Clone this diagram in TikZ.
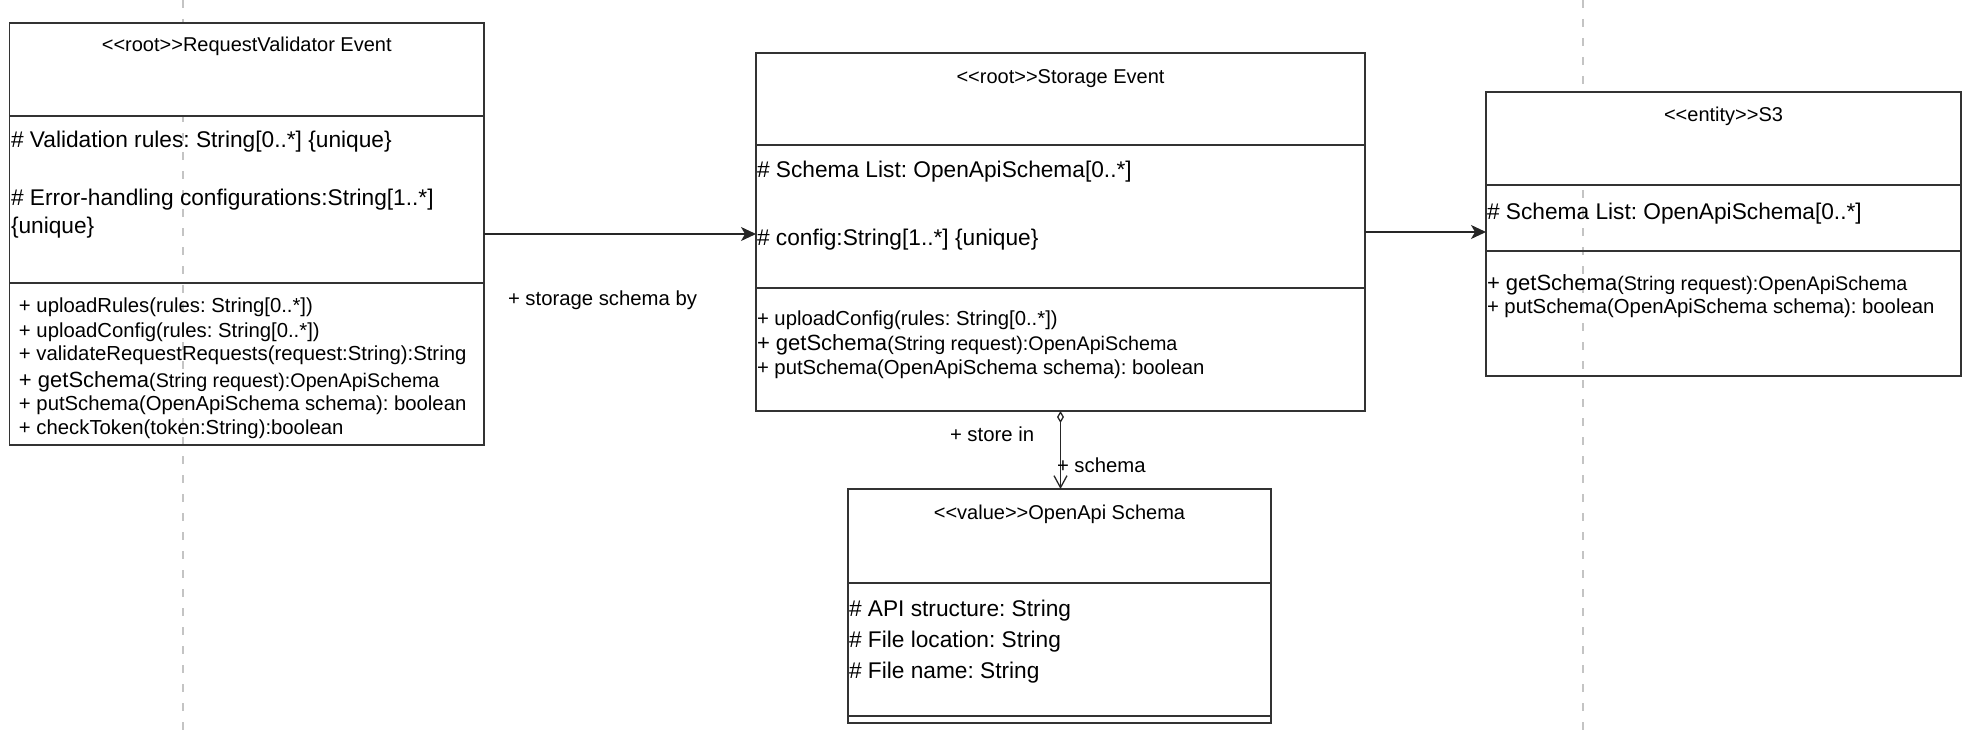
\documentclass[tikz,border=0pt]{standalone}
\usepackage{fontspec}
\setmainfont{Liberation Sans}
\usetikzlibrary{arrows.meta}
\definecolor{boxc}{HTML}{333333}
\definecolor{lifec}{HTML}{C4C4C4}
\frenchspacing
\newcommand\ftitle{\fontsize{20}{24}\selectfont}
\newcommand\fattr{\fontsize{22.7}{27}\selectfont}
\newcommand\fmeth{\fontsize{20.3}{24}\selectfont}
\newcommand\fbig{\fontsize{22}{26}\selectfont}
\newcommand\fsmall{\fontsize{19.7}{23}\selectfont}
\newcommand\getsch{{\fbig + getSchema}{\fsmall (String request):OpenApiSchema}}
\begin{document}
\begin{tikzpicture}[x=1pt,y=-1pt,
  box/.style={draw=boxc, line width=1.5pt, inner sep=0pt, outer sep=0pt, anchor=north west},
  head/.style={box, fill=white},
  divider/.style={draw=boxc, line width=1.5pt},
  ttl/.style={anchor=base, inner sep=0pt, outer sep=0pt, font=\ftitle},
  attr/.style={anchor=base west, inner sep=0pt, outer sep=0pt, font=\fattr},
  meth/.style={anchor=base west, inner sep=0pt, outer sep=0pt, font=\fmeth},
  lbl/.style={anchor=base west, inner sep=0pt, outer sep=0pt, font=\fmeth},
  lifeline/.style={draw=lifec, line width=2pt, dash pattern=on 8pt off 11pt},
  conn/.style={draw=black!85, line width=1.3pt},
  filledtip/.style={-{Stealth[length=15pt,width=14pt,inset=4pt]}},
  aggtip/.style={{Diamond[open,length=12pt,width=7pt]}-{Straight Barb[length=12pt,width=13pt]}}]
\useasboundingbox (0,0) rectangle (1965,733);

% lifelines
\coordinate (l1top) at (183,0);  \coordinate (l1bot) at (183,733);
\coordinate (l2top) at (1583,0); \coordinate (l2bot) at (1583,733);
\draw[lifeline] (l1top) -- (l1bot);
\draw[lifeline] (l2top) -- (l2bot);

% ---------------- RequestValidator Event ----------------
\node[head, minimum width=474.5pt, minimum height=93pt] (rvh) at (9.5,23) {};
\node[box, minimum width=474.5pt, minimum height=422pt] (rv) at (9.5,23) {};
\coordinate (rvd) at (0,283);
\draw[divider] (rv.west |- rvd) -- (rv.east |- rvd);
\node[ttl] (rvt) at (246.75,52) {{<}{<}root{>}{>}RequestValidator Event};
\node[attr] (rva1) at (11,147) {\# Validation rules: String[0..*] \{unique\}};
\node[attr] (rva2) at (11,205) {\# Error-handling configurations:String[1..*]};
\node[attr] (rva3) at (11,233) {\{unique\}};
\node[meth] (rvm1) at (19,312) {+ uploadRules(rules: String[0..*])};
\node[meth] (rvm2) at (19,337) {+ uploadConfig(rules: String[0..*])};
\node[meth] (rvm3) at (19,360) {+ validateRequestRequests(request:String):String};
\node[meth] (rvm4) at (19,387) {\getsch};
\node[meth] (rvm5) at (19,410) {+ putSchema(OpenApiSchema schema): boolean};
\node[meth] (rvm6) at (19,434) {+ checkToken(token:String):boolean};

% ---------------- Storage Event ----------------
\node[head, minimum width=609pt, minimum height=92pt] (sth) at (756,53) {};
\node[box, minimum width=609pt, minimum height=358pt] (st) at (756,53) {};
\coordinate (std) at (0,288);
\draw[divider] (st.west |- std) -- (st.east |- std);
\node[ttl] (stt) at (1060.5,84) {{<}{<}root{>}{>}Storage Event};
\node[attr] (sta1) at (757,177) {\# Schema List: OpenApiSchema[0..*]};
\node[attr] (sta2) at (757,245) {\# config:String[1..*] \{unique\}};
\node[meth] (stm1) at (757,325) {+ uploadConfig(rules: String[0..*])};
\node[meth] (stm2) at (757,350) {\getsch};
\node[meth] (stm3) at (757,374) {+ putSchema(OpenApiSchema schema): boolean};

% ---------------- S3 ----------------
\node[head, minimum width=475pt, minimum height=93pt] (s3h) at (1486,92) {};
\node[box, minimum width=475pt, minimum height=284pt] (s3) at (1486,92) {};
\coordinate (s3d) at (0,251);
\draw[divider] (s3.west |- s3d) -- (s3.east |- s3d);
\node[ttl] (s3t) at (1723.5,122) {{<}{<}entity{>}{>}S3};
\node[attr] (s3a1) at (1487,219) {\# Schema List: OpenApiSchema[0..*]};
\node[meth] (s3m1) at (1487,290) {\getsch};
\node[meth] (s3m2) at (1487,313) {+ putSchema(OpenApiSchema schema): boolean};

% ---------------- OpenApi Schema ----------------
\node[head, minimum width=423pt, minimum height=94pt] (oah) at (848,489) {};
\node[box, minimum width=423pt, minimum height=234pt] (oa) at (848,489) {};
\coordinate (oad) at (0,716);
\draw[divider] (oa.west |- oad) -- (oa.east |- oad);
\node[ttl] (oat) at (1059.5,519) {{<}{<}value{>}{>}OpenApi Schema};
\node[attr] (oaa1) at (849,616) {\# API structure: String};
\node[attr] (oaa2) at (849,647) {\# File location: String};
\node[attr] (oaa3) at (849,678) {\# File name: String};

% ---------------- connectors ----------------
\draw[conn, filledtip] (rv.east) -- (rv.east -| st.west);
\draw[conn, filledtip] (st.east) -- (st.east -| s3.west);
\draw[conn, aggtip] (st.south) -- (st.south |- oa.north);

\node[lbl] (lb1) at (508,305) {+ storage schema by};
\node[lbl] (lb2) at (950,441) {+ store in};
\node[lbl] (lb3) at (1057,472) {+ schema};
\end{tikzpicture}
\end{document}
